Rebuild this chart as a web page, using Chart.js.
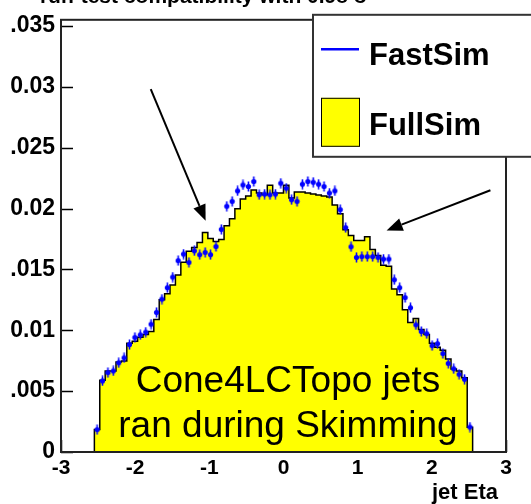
<!DOCTYPE html>
<html>
<head>
<meta charset="utf-8">
<script src="https://cdn.jsdelivr.net/npm/chart.js@4.4.1/dist/chart.umd.min.js"></script>
<style>
  html, body { margin: 0; padding: 0; background: #ffffff; overflow: hidden; }
  canvas { display: block; }
</style>
</head>
<body>
<canvas id="c" width="531" height="504"></canvas>
<script>
// Histogram binning in jet eta
const etaLow = -2.55;
const etaHigh = 2.55;

// FullSim: normalised bin contents (filled histogram)
const fullSim = [
  0.00184, 0.00589, 0.00666, 0.00666, 0.00739, 0.00747, 0.00893, 0.00909, 0.00942, 0.00966,
  0.00990, 0.01088, 0.01250, 0.01299, 0.01372, 0.01453, 0.01558, 0.01648, 0.01680, 0.01721,
  0.01802, 0.01753, 0.01729, 0.01745, 0.01859, 0.01916, 0.01997, 0.02078, 0.02102, 0.02151,
  0.02127, 0.02114, 0.02192, 0.02127, 0.02127, 0.02192, 0.02086, 0.02135, 0.02135, 0.02127,
  0.02119, 0.02110, 0.02102, 0.02094, 0.02029, 0.01956, 0.01826, 0.01778, 0.01737, 0.01737,
  0.01769, 0.01664, 0.01615, 0.01534, 0.01526, 0.01339, 0.01291, 0.01169, 0.01063, 0.01096,
  0.01006, 0.00966, 0.00893, 0.00860, 0.00836, 0.00763, 0.00682, 0.00666, 0.00609, 0.00203
];

// FastSim: normalised bin contents (markers)
const fastSim = [
  0.00184, 0.00584, 0.00652, 0.00666, 0.00733, 0.00774, 0.00882, 0.00942, 0.00963, 0.00985,
  0.01050, 0.01147, 0.01256, 0.01350, 0.01437, 0.01572, 0.01626, 0.01558, 0.01653, 0.01621,
  0.01640, 0.01621, 0.01688, 0.01829, 0.02019, 0.02059, 0.02145, 0.02194, 0.02181, 0.02222,
  0.02113, 0.02119, 0.02113, 0.02119, 0.02208, 0.02167, 0.02072, 0.02059, 0.02200, 0.02222,
  0.02216, 0.02200, 0.02181, 0.02127, 0.02145, 0.01991, 0.01843, 0.01686, 0.01599, 0.01605,
  0.01605, 0.01605, 0.01599, 0.01585, 0.01585, 0.01415, 0.01350, 0.01269, 0.01185, 0.01045,
  0.00990, 0.00972, 0.00874, 0.00890, 0.00809, 0.00728, 0.00684, 0.00639, 0.00598, 0.00205
];

const seriesNames = ['FastSim', 'FullSim'];
const xTickValues = [-3, -2, -1, 0, 1, 2, 3];
const yTickValues = [0, 0.005, 0.01, 0.015, 0.02, 0.025, 0.03, 0.035];
const xAxisTitle = 'jet Eta';
const titleText = 'run-test compatibility with 0.98 \u03c3';
const noteLines = ['Cone4LCTopo jets', 'ran during Skimming'];

// arrows pointing at the shoulders, in (eta, value) coordinates
const arrows = [
  { from: [-1.79, 0.0298], to: [-1.05, 0.0190] },
  { from: [2.79, 0.0215], to: [1.39, 0.0182] }
];

const FONT = '"Liberation Sans", Arial, Helvetica, sans-serif';
const BLUE = '#0000ff';
const YELLOW = '#ffff00';

// step outline of the histogram: one point per lower bin edge, closed to zero at both ends
const nBins = fullSim.length;
const binWidth = (etaHigh - etaLow) / nBins;
const histPoints = [{ x: etaLow, y: 0 }];
fullSim.forEach((v, k) => histPoints.push({ x: etaLow + k * binWidth, y: v }));
histPoints.push({ x: etaHigh, y: fullSim[nBins - 1] });
histPoints.push({ x: etaHigh, y: 0 });

const fastPoints = fastSim.map((v, k) => ({ x: etaLow + (k + 0.5) * binWidth, y: v }));

// marker: filled dot with a short vertical error bar
function makeMarker(color) {
  const c = document.createElement('canvas');
  c.width = 7; c.height = 11;
  const g = c.getContext('2d');
  g.strokeStyle = color; g.fillStyle = color; g.lineWidth = 1.6;
  g.beginPath(); g.moveTo(3.5, 0.5); g.lineTo(3.5, 10.5); g.stroke();
  g.beginPath(); g.arc(3.5, 5.5, 2.6, 0, Math.PI * 2); g.fill();
  return c;
}

// inward tick marks, drawn before the histogram so the fill covers them
const innerTicks = {
  id: 'innerTicks',
  beforeDatasetsDraw(chart) {
    const { ctx, chartArea: a, scales: { x, y } } = chart;
    ctx.save();
    ctx.strokeStyle = '#000'; ctx.lineWidth = 1.5;
    ctx.beginPath();
    yTickValues.forEach(v => { const py = Math.round(y.getPixelForValue(v)) + 0.5; ctx.moveTo(a.left, py); ctx.lineTo(a.left + 12, py); });
    xTickValues.forEach(v => { const px = Math.round(x.getPixelForValue(v)) + 0.5; ctx.moveTo(px, a.bottom); ctx.lineTo(px, a.bottom - 12); });
    ctx.stroke();
    ctx.restore();
  }
};

function drawArrow(ctx, x0, y0, x1, y1) {
  const ang = Math.atan2(y1 - y0, x1 - x0);
  const len = 16, half = 6.5;
  const bx = x1 - len * Math.cos(ang), by = y1 - len * Math.sin(ang);
  ctx.beginPath(); ctx.moveTo(x0, y0); ctx.lineTo(bx, by); ctx.stroke();
  ctx.beginPath();
  ctx.moveTo(x1, y1);
  ctx.lineTo(bx + half * Math.sin(ang), by - half * Math.cos(ang));
  ctx.lineTo(bx - half * Math.sin(ang), by + half * Math.cos(ang));
  ctx.closePath(); ctx.fill();
}

// frame, title, annotations and legend box
const decorations = {
  id: 'decorations',
  afterDatasetsDraw(chart) {
    const { ctx, chartArea: a, scales: { x, y } } = chart;
    ctx.save();
    // frame
    ctx.strokeStyle = '#222'; ctx.lineWidth = 2;
    ctx.strokeRect(a.left, a.top, a.right - a.left, a.bottom - a.top);

    // note text
    ctx.fillStyle = '#000';
    ctx.font = '37px ' + FONT;
    ctx.textAlign = 'center'; ctx.textBaseline = 'alphabetic';
    const cx = x.getPixelForValue(0.06);
    ctx.fillText(noteLines[0], cx, y.getPixelForValue(0.0049));
    ctx.fillText(noteLines[1], cx, y.getPixelForValue(0.00124));

    // arrows
    ctx.strokeStyle = '#000'; ctx.fillStyle = '#000'; ctx.lineWidth = 2;
    arrows.forEach(ar => drawArrow(ctx,
      x.getPixelForValue(ar.from[0]), y.getPixelForValue(ar.from[1]),
      x.getPixelForValue(ar.to[0]), y.getPixelForValue(ar.to[1])));
    ctx.restore();
  },
  afterDraw(chart) {
    const { ctx, chartArea: a } = chart;
    ctx.save();
    // blank page margin on the far left
    ctx.fillStyle = '#fff';
    ctx.fillRect(0, 0, 11, chart.height);

    // title, running off the top edge
    ctx.fillStyle = '#000';
    ctx.font = 'bold 21px ' + FONT;
    ctx.textAlign = 'center'; ctx.textBaseline = 'alphabetic';
    ctx.fillText(titleText, 204, 3);

    // x axis title
    ctx.font = 'bold 22px ' + FONT;
    ctx.textAlign = 'right';
    ctx.fillText(xAxisTitle, a.right - 8, 499);

    // legend box
    const lx = 313, ly = a.top - 5, lw = 240, lh = 142;
    ctx.fillStyle = '#fff';
    ctx.fillRect(lx, ly, lw, lh);
    ctx.strokeStyle = '#333'; ctx.lineWidth = 2;
    ctx.strokeRect(lx, ly, lw, lh);

    const ds = chart.data.datasets;
    // FastSim entry: line
    ctx.strokeStyle = ds[0].borderColor; ctx.lineWidth = 2.5;
    ctx.beginPath(); ctx.moveTo(lx + 8, ly + 34.5); ctx.lineTo(lx + 46, ly + 34.5); ctx.stroke();
    // FullSim entry: filled box
    ctx.fillStyle = ds[1].backgroundColor;
    ctx.fillRect(lx + 8, ly + 83, 39, 49);
    ctx.strokeStyle = '#000'; ctx.lineWidth = 1;
    ctx.strokeRect(lx + 8.5, ly + 83.5, 38, 48);

    ctx.fillStyle = '#000';
    ctx.font = 'bold 31px ' + FONT;
    ctx.textAlign = 'left';
    ctx.fillText(ds[0].label, lx + 56, ly + 50);
    ctx.fillText(ds[1].label, lx + 56, ly + 120);
    ctx.restore();
  }
};

const xTickFont = { family: FONT, size: 21, weight: 'bold' };
const yTickFont = { family: FONT, size: 23, weight: 'bold' };

new Chart(document.getElementById('c'), {
  data: {
    datasets: [
      {
        type: 'scatter',
        label: seriesNames[0],
        data: fastPoints,
        borderColor: BLUE,
        backgroundColor: BLUE,
        pointStyle: makeMarker(BLUE),
        pointRadius: 5,
        showLine: false,
        order: 0
      },
      {
        type: 'line',
        label: seriesNames[1],
        data: histPoints,
        stepped: 'before',
        fill: 'origin',
        backgroundColor: YELLOW,
        borderColor: '#000',
        borderWidth: 1.5,
        pointRadius: 0,
        order: 1
      }
    ]
  },
  options: {
    responsive: false,
    animation: false,
    devicePixelRatio: 1,
    layout: { padding: { left: 0, right: 25, top: 15, bottom: 0 } },
    plugins: { legend: { display: false }, tooltip: { enabled: false } },
    scales: {
      x: {
        type: 'linear',
        min: -3, max: 3,
        afterBuildTicks: s => { s.ticks = xTickValues.map(v => ({ value: v })); },
        grid: { display: false, drawTicks: false },
        border: { display: false },
        ticks: { font: xTickFont, color: '#000', padding: 4, maxRotation: 0, autoSkip: false },
        afterFit: s => { s.height = 52; }
      },
      y: {
        type: 'linear',
        min: 0, max: 0.0355,
        afterBuildTicks: s => { s.ticks = yTickValues.map(v => ({ value: v })); },
        grid: { display: false, drawTicks: false },
        border: { display: false },
        ticks: {
          font: yTickFont, color: '#000', padding: 6, autoSkip: false,
          callback: v => String(Number(v.toFixed(4)))
        },
        afterFit: s => { s.width = 61; }
      }
    }
  },
  plugins: [innerTicks, decorations]
});
</script>
</body>
</html>
